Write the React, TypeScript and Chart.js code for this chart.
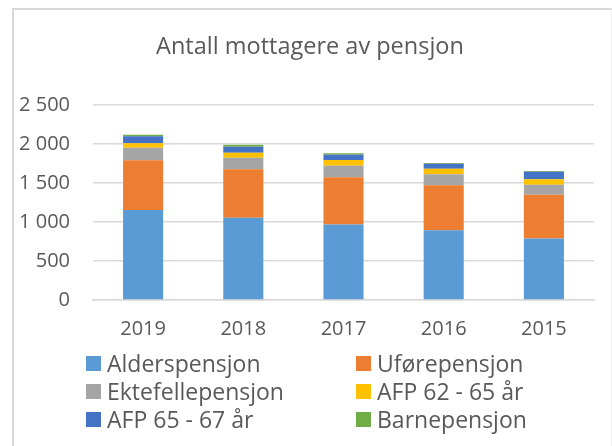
import React, { useEffect, useRef } from "react";
import { Chart, registerables } from "chart.js";

Chart.register(...registerables);

const categories = ["2019", "2018", "2017", "2016", "2015"];
const alderspensjon = [1155, 1053, 968, 895, 790];
const uforepensjon = [636, 622, 605, 575, 560];
const ektefellepensjon = [162, 150, 149, 141, 128];
const afp6265 = [56, 64, 73, 73, 69];
const afp6567 = [89, 77, 68, 64, 98];
const barnepensjon = [21, 25, 17, 8, 9];

const seriesLabels = [
  "Alderspensjon",
  "Uførepensjon",
  "Ektefellepensjon",
  "AFP 62 - 65 år",
  "AFP 65 - 67 år",
  "Barnepensjon",
];
const seriesColors = ["#5B9BD5", "#ED7D31", "#A5A5A5", "#FFC000", "#4472C4", "#70AD47"];
const seriesData = [alderspensjon, uforepensjon, ektefellepensjon, afp6265, afp6567, barnepensjon];
const titleText = "Antall mottagere av pensjon";

const FONT = "'Open Sans', 'Liberation Sans', sans-serif";
const TEXT = "#595959";

export default function App() {
  const ref = useRef<HTMLCanvasElement | null>(null);
  useEffect(() => {
    if (!ref.current) return;
    const chart = new Chart(ref.current, {
      type: "bar",
      data: {
        labels: categories,
        datasets: seriesLabels.map((label, i) => ({
          label,
          data: seriesData[i],
          backgroundColor: seriesColors[i],
          borderWidth: 0,
          categoryPercentage: 1,
          barPercentage: 0.4,
        })),
      },
      options: {
        responsive: false,
        animation: false,
        layout: { padding: { left: 0, right: 18, top: 105, bottom: 0 } },
        plugins: {
          legend: { display: false },
          tooltip: { enabled: false },
          title: { display: false },
        },
        scales: {
          x: {
            stacked: true,
            grid: { display: false, drawTicks: false },
            border: { display: true, color: "#d9d9d9", width: 1.5 },
            ticks: { color: TEXT, font: { family: FONT, size: 20 }, padding: 17 },
            afterFit: (s: any) => {
              s.height = 146;
            },
          },
          y: {
            stacked: true,
            min: 0,
            max: 2500,
            ticks: {
              stepSize: 500,
              color: TEXT,
              font: { family: FONT, size: 20 },
              padding: 23,
              callback: (v: any) => String(v).replace(/\B(?=(\d{3})+(?!\d))/g, " "),
            },
            grid: { color: "#d9d9d9", lineWidth: 1.5, drawTicks: false },
            border: { display: false },
            afterFit: (s: any) => {
              s.width = 93;
            },
          },
        },
      },
    });
    return () => chart.destroy();
  }, []);

  const legendPos = [
    { left: 86, top: 355 },
    { left: 356, top: 355 },
    { left: 86, top: 383 },
    { left: 356, top: 383 },
    { left: 86, top: 411 },
    { left: 356, top: 411 },
  ];

  return (
    <div style={{ position: "fixed", left: 0, top: 0, width: 612, height: 446, overflow: "hidden", background: "#fff" }}>
      <div
        style={{
          position: "absolute",
          left: 12,
          top: 8,
          width: 597,
          height: 460,
          borderLeft: "2px solid #d9d9d9",
          borderTop: "2px solid #d9d9d9",
          borderRight: "1px solid #f2f2f2",
        }}
      />
      <canvas ref={ref} width={612} height={446} style={{ position: "absolute", left: 0, top: 0 }} />
      <div
        style={{
          position: "absolute",
          left: 0,
          width: 620,
          top: 30,
          height: 30,
          lineHeight: "30px",
          textAlign: "center",
          fontFamily: FONT,
          fontSize: 23.5,
          color: TEXT,
          whiteSpace: "nowrap",
        }}
      >
        {titleText}
      </div>
      {seriesLabels.map((l, i) => (
        <div
          key={l}
          style={{
            position: "absolute",
            left: legendPos[i].left,
            top: legendPos[i].top,
            height: 16,
            display: "flex",
            alignItems: "center",
            fontFamily: FONT,
            fontSize: 23,
            color: TEXT,
            whiteSpace: "nowrap",
          }}
        >
          <span style={{ display: "inline-block", width: 15, height: 15, background: seriesColors[i], marginRight: 6, flexShrink: 0 }} />
          <span>{l}</span>
        </div>
      ))}
    </div>
  );
}
